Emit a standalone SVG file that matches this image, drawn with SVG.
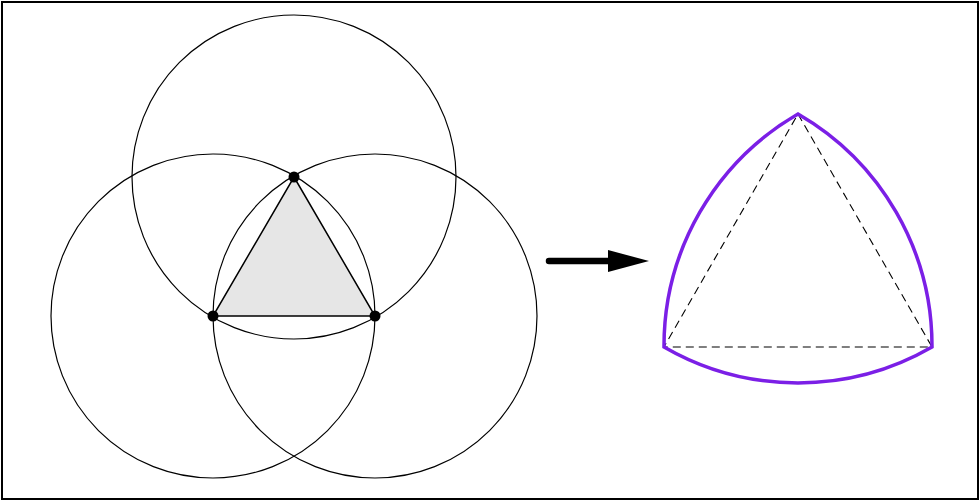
<svg xmlns="http://www.w3.org/2000/svg" width="980" height="502" viewBox="0 0 980 502">
<style>
.c{fill:none;stroke:#000;stroke-width:1.2}
.d{fill:#000}
.dash{fill:none;stroke:#000;stroke-width:1.1;stroke-dasharray:8 5}
</style>
<rect x="0" y="0" width="980" height="502" fill="#fff"/>
<rect x="2" y="2" width="976" height="497" fill="none" stroke="#000" stroke-width="2"/>
<path d="M294,177 L375,316 L213,316 Z" fill="#e6e6e6" stroke="#000" stroke-width="1.5"/>
<circle class="c" cx="294" cy="177" r="162"/>
<circle class="c" cx="213" cy="316" r="162"/>
<circle class="c" cx="375" cy="316" r="162"/>
<circle class="d" cx="294" cy="177" r="5.5"/>
<circle class="d" cx="213" cy="316" r="5.5"/>
<circle class="d" cx="375" cy="316" r="5.5"/>
<line x1="549" y1="261" x2="612" y2="261" stroke="#000" stroke-width="6.5" stroke-linecap="round"/>
<polygon points="608,250 649,261 608,272" fill="#000"/>
<path class="dash" d="M798,114 L932,347 L664,347 Z"/>
<path d="M798,114 A268,268 0 0 1 932,347 A268,268 0 0 1 664,347 A268,268 0 0 1 798,114 Z" fill="none" stroke="#7b1fe6" stroke-width="3.5" stroke-linejoin="miter"/>
</svg>
